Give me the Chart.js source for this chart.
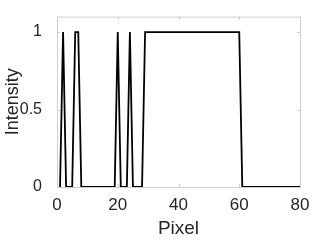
<!DOCTYPE html>
<html>
<head>
<meta charset="utf-8">
<script src="https://cdn.jsdelivr.net/npm/chart.js@4/dist/chart.umd.min.js"></script>
<style>
  html, body { margin: 0; padding: 0; background: #fff; }
  #wrap { width: 318px; height: 244px; }
</style>
</head>
<body>
<div id="wrap"><canvas id="chart" width="318" height="244"></canvas></div>
<script>
var pixel = [1, 2, 3, 4, 5, 6, 7, 8, 9, 10, 11, 12, 13, 14, 15, 16, 17, 18, 19, 20,
	21, 22, 23, 24, 25, 26, 27, 28, 29, 30, 31, 32, 33, 34, 35, 36, 37, 38, 39, 40,
	41, 42, 43, 44, 45, 46, 47, 48, 49, 50, 51, 52, 53, 54, 55, 56, 57, 58, 59, 60,
	61, 62, 63, 64, 65, 66, 67, 68, 69, 70, 71, 72, 73, 74, 75, 76, 77, 78, 79, 80];
var intensity = [0, 1, 0, 0, 0, 1, 1, 0, 0, 0, 0, 0, 0, 0, 0, 0, 0, 0, 0, 1,
	0, 0, 0, 1, 0, 0, 0, 0, 1, 1, 1, 1, 1, 1, 1, 1, 1, 1, 1, 1,
	1, 1, 1, 1, 1, 1, 1, 1, 1, 1, 1, 1, 1, 1, 1, 1, 1, 1, 1, 1,
	0, 0, 0, 0, 0, 0, 0, 0, 0, 0, 0, 0, 0, 0, 0, 0, 0, 0, 0, 0];
var xTicks = [0, 20, 40, 60, 80];
var yTicks = [0, 0.5, 1];
var yTickLabels = ['0', '0.5', '1'];

var textColor = '#262626';
var boxColor = '#cfcfcf';
var font = 'Liberation Sans, Arial, Helvetica, sans-serif';

var points = pixel.map(function (p, i) {
	return { x: p, y: intensity[i] };
});

// matlab style box with inward ticks
var boxPlugin = {
	id: 'box',
	afterDraw: function (chart) {
		var ctx = chart.ctx, a = chart.chartArea;
		var xs = chart.scales.x, ys = chart.scales.y;
		ctx.save();
		ctx.strokeStyle = boxColor;
		ctx.lineWidth = 1;
		ctx.strokeRect(a.left + 0.5, a.top + 0.5, a.right - a.left, a.bottom - a.top);
		ctx.beginPath();
		xTicks.forEach(function (v) {
			var px = Math.round(xs.getPixelForValue(v)) + 0.5;
			ctx.moveTo(px, a.bottom); ctx.lineTo(px, a.bottom - 3);
			ctx.moveTo(px, a.top); ctx.lineTo(px, a.top + 3);
		});
		yTicks.forEach(function (v) {
			var py = Math.round(ys.getPixelForValue(v)) + 0.5;
			ctx.moveTo(a.left, py); ctx.lineTo(a.left + 3, py);
			ctx.moveTo(a.right, py); ctx.lineTo(a.right - 3, py);
		});
		ctx.stroke();
		ctx.restore();
	}
};

new Chart(document.getElementById('chart').getContext('2d'), {
	type: 'line',
	data: {
		datasets: [{
			data: points,
			borderColor: '#000000',
			borderWidth: 1.8,
			pointRadius: 0,
			tension: 0,
			fill: false
		}]
	},
	options: {
		responsive: false,
		animation: false,
		layout: { padding: { left: 0, right: 18, top: 9, bottom: 0 } },
		plugins: { legend: { display: false }, tooltip: { enabled: false } },
		scales: {
			x: {
				type: 'linear',
				min: 0,
				max: 80,
				afterBuildTicks: function (s) { s.ticks = xTicks.map(function (v) { return { value: v }; }); },
				afterFit: function (s) { s.height = 57; },
				grid: { display: false },
				border: { display: false },
				ticks: { color: textColor, padding: 0, font: { family: font, size: 17 }, maxRotation: 0 },
				title: { display: true, text: 'Pixel', color: textColor, padding: { top: 0, bottom: 4 }, font: { family: font, size: 19 } }
			},
			y: {
				min: 0,
				max: 1.1,
				afterBuildTicks: function (s) { s.ticks = yTicks.map(function (v) { return { value: v }; }); },
				afterFit: function (s) { s.width = 57; },
				grid: { display: false },
				border: { display: false },
				ticks: {
					color: textColor, padding: 7, font: { family: font, size: 16 },
					callback: function (v) { return yTickLabels[yTicks.indexOf(v)]; }
				},
				title: { display: true, text: 'Intensity', color: textColor, padding: { top: 2, bottom: 0 }, font: { family: font, size: 18 } }
			}
		}
	},
	plugins: [boxPlugin]
});
</script>
</body>
</html>
